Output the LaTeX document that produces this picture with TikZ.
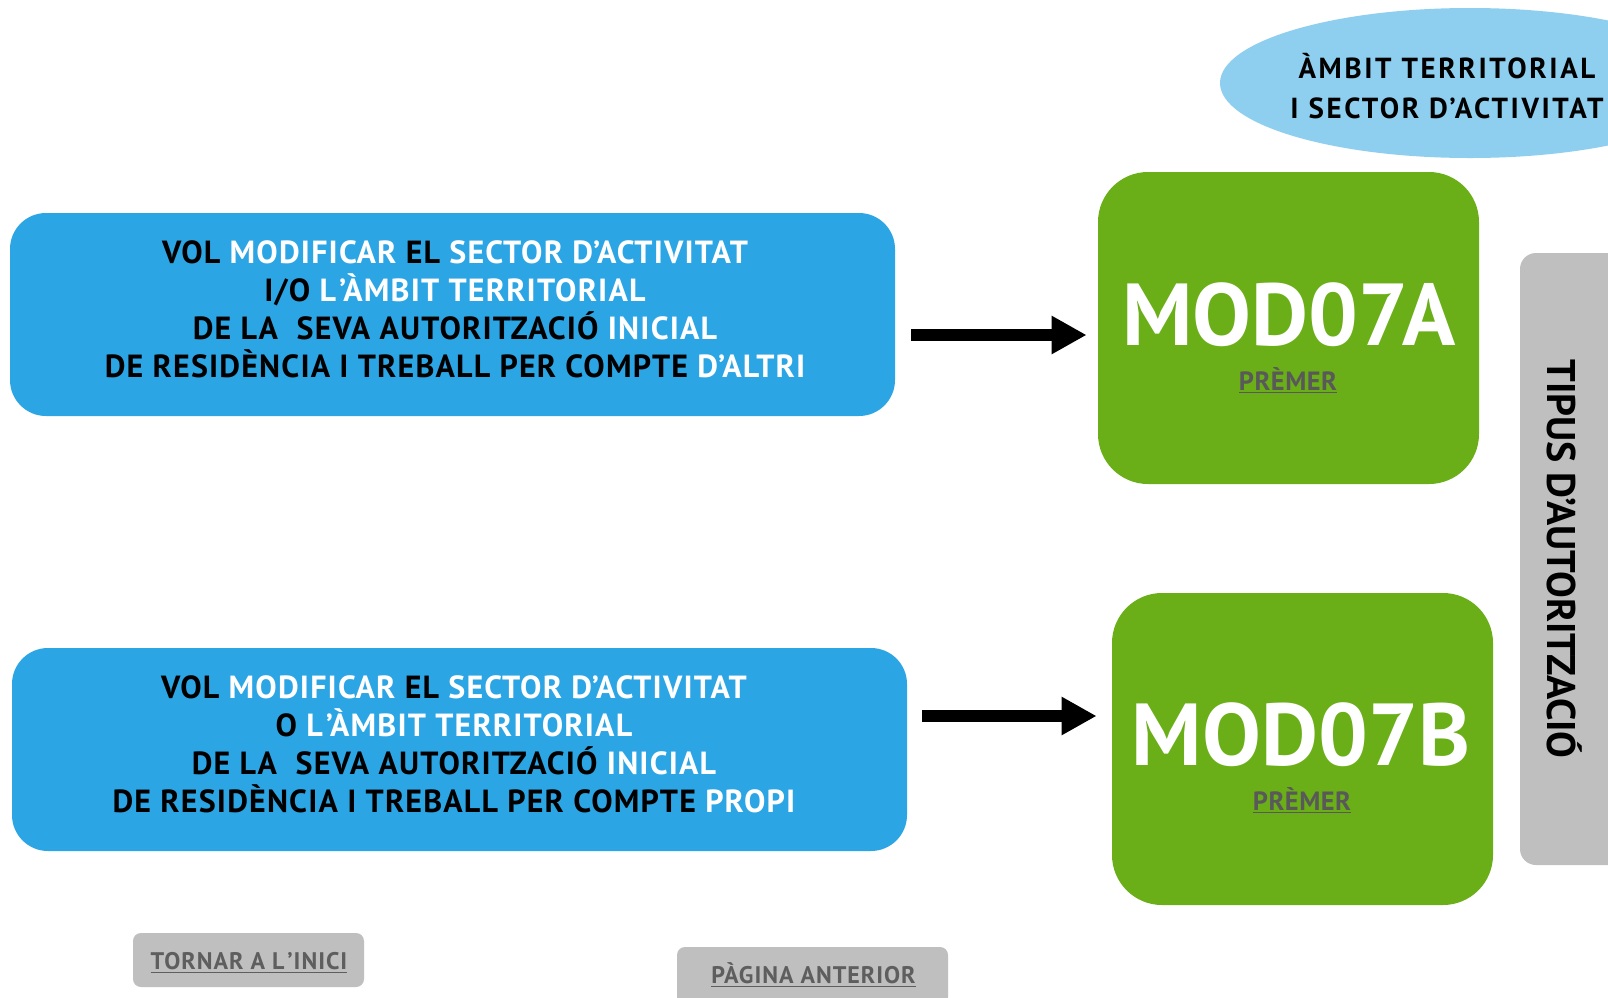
\documentclass[tikz,border=0pt]{standalone}
\usepackage{fontspec}
\setmainfont{PT Sans}
\newfontfamily\boxfont{PT Sans}[LetterSpace=3.7]
\newfontfamily\ellfont{PT Sans}[LetterSpace=9]
\newfontfamily\btnfont{PT Sans}[LetterSpace=4]
\newfontfamily\linkfont{PT Sans}[LetterSpace=2]
\usetikzlibrary{arrows.meta,shapes.geometric,calc}
\definecolor{boxblue}{HTML}{2CA5E5}
\definecolor{modgreen}{HTML}{6BAF18}
\definecolor{ellblue}{HTML}{8ECFF0}
\definecolor{btngray}{HTML}{BFBFBF}
\definecolor{txtgray}{HTML}{5E5E5E}
\definecolor{linkgray}{HTML}{595959}
\newcommand\wht[1]{\textcolor{white}{#1}}
\newcommand\Lq{L\kern1.5pt’}
\begin{document}
\begin{tikzpicture}[x=0.5pt,y=-0.5pt,
  bluebox/.style={fill=boxblue,rounded corners=18pt,inner sep=0pt,minimum height=101.5pt},
  greenbox/.style={fill=modgreen,rounded corners=25pt,inner sep=0pt,minimum width=190.5pt,minimum height=156pt},
  boxtext/.style={align=center,inner sep=0pt,text=black,font=\boxfont\bfseries\fontsize{16pt}{19pt}\selectfont},
  modtext/.style={anchor=base,inner sep=0pt,text=white,font=\bfseries\fontsize{44pt}{44pt}\selectfont},
  linktext/.style={anchor=base,inner sep=0pt,text=linkgray,font=\linkfont\bfseries\fontsize{13.2pt}{14pt}\selectfont},
  btn/.style={fill=btngray,rounded corners=4pt,inner sep=0pt},
  btntext/.style={anchor=base,inner sep=0pt,text=txtgray,font=\btnfont\bfseries\fontsize{12pt}{14pt}\selectfont},
  arr/.style={line width=6pt,-{Triangle[length=17.5pt,width=18pt]}}
]
\clip (0,0) rectangle (1608,997);
\fill[white] (0,0) rectangle (1608,997);

% ellipse
\node[ellipse,fill=ellblue,inner sep=0pt,minimum width=250pt,minimum height=75pt] (ell) at (1470,83) {};
\node[align=center,inner sep=0pt,font=\ellfont\bfseries\fontsize{14.5pt}{20pt}\selectfont] (elltxt) at (1447,86) {ÀMBIT TERRITORIAL\\I SECTOR D’ACTIVITAT};

% side bar
\node[fill=btngray,rounded corners=8pt,inner sep=0pt,minimum width=55pt,minimum height=306pt] (bar) at (1575,559) {};
\node[rotate=-90,inner sep=0pt,font=\bfseries\fontsize{20pt}{20pt}\selectfont] (tipus) at (1565,559) {TIPUS D’AUTORITZACIÓ};

% blue boxes
\node[bluebox,minimum width=442.5pt] (b1) at (452.5,314.5) {};
\node[boxtext] (t1) at (455,309.5) {VOL \wht{MODIFICAR} EL \wht{SECTOR D’ACTIVITAT}\\I/O \wht{\Lq ÀMBIT TERRITORIAL}\\DE LA\ \ SEVA AUTORITZACIÓ \wht{INICIAL}\\DE RESIDÈNCIA I TREBALL PER COMPTE \wht{D’ALTRI}};
\node[bluebox,minimum width=447.5pt] (b2) at (459.5,749.5) {};
\node[boxtext] (t2) at (454,744.5) {VOL \wht{MODIFICAR} EL \wht{SECTOR D’ACTIVITAT}\\O \wht{\Lq ÀMBIT TERRITORIAL}\\DE LA\ \ SEVA AUTORITZACIÓ \wht{INICIAL}\\DE RESIDÈNCIA I TREBALL PER COMPTE \wht{PROPI}};

% green boxes
\node[greenbox] (gA) at (1288.5,328) {};
\node[modtext] (mA) at (1289,345) {MOD07A};
\node[linktext] (pA) at (1288,390) {\underline{PRÈMER}};
\node[greenbox] (gB) at (1302.5,749) {};
\node[modtext] (mB) at (1301,765) {MOD07B};
\node[linktext] (pB) at (1302,810) {\underline{PRÈMER}};

% arrows
\draw[arr] ($(b1.east)+(16,20.5)$) -- ($(gA.west)+(-11,7)$);
\draw[arr] ($(b2.east)+(15,-33.5)$) -- ($(gB.west)+(-15,-33)$);

% buttons
\node[btn,minimum width=115.5pt,minimum height=27pt] (home) at (248.5,960) {};
\node[btntext] (homet) at (249,969) {\underline{TORNAR A \Lq INICI}};
\node[btn,minimum width=135.5pt,minimum height=29pt] (prev) at (812.5,976) {};
\node[btntext] (prevt) at (813.5,983) {\underline{PÀGINA ANTERIOR}};
\end{tikzpicture}
\end{document}
